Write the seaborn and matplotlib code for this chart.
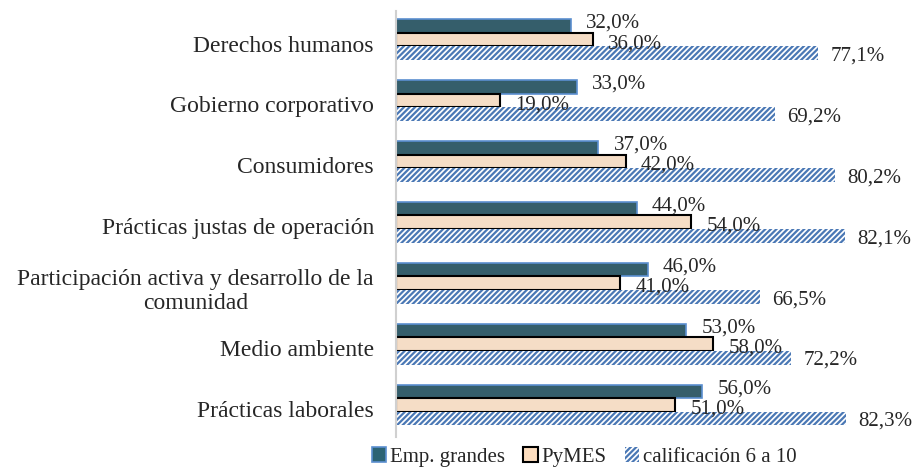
import pandas as pd
import matplotlib.pyplot as plt
import matplotlib.transforms as mtransforms
from matplotlib.patches import Patch
import seaborn as sns

categorias = ['Derechos humanos', 'Gobierno corporativo', 'Consumidores',
              'Prácticas justas de operación',
              'Participación activa y desarrollo de la\ncomunidad',
              'Medio ambiente', 'Prácticas laborales']
emp_grandes = [32.0, 33.0, 37.0, 44.0, 46.0, 53.0, 56.0]
pymes = [36.0, 19.0, 42.0, 54.0, 41.0, 58.0, 51.0]
calificacion = [77.1, 69.2, 80.2, 82.1, 66.5, 72.2, 82.3]
series = ['Emp. grandes', 'PyMES', 'calificación 6 a 10']

df = pd.DataFrame({
    'categoria': categorias * 3,
    'serie': [series[0]] * 7 + [series[1]] * 7 + [series[2]] * 7,
    'valor': emp_grandes + pymes + calificacion,
})

sns.set_style('white')
plt.rcParams['font.family'] = ['Liberation Serif', 'DejaVu Serif']
plt.rcParams['hatch.linewidth'] = 1.6

fig = plt.figure(figsize=(9.24, 4.68), dpi=100)
ax = fig.add_axes([396 / 924, 1 - 437 / 468, 0.99 - 396 / 924, 426 / 468])

colores = ['#2C6374', '#FDDDBE', 'white']
sns.barplot(data=df, x='valor', y='categoria', hue='serie', orient='h',
            palette=colores, width=0.67, ax=ax, legend=False)

# estilos por serie
for bar in ax.containers[0]:
    bar.set_edgecolor('#5B8FD0')
    bar.set_linewidth(1.2)
for bar in ax.containers[1]:
    bar.set_edgecolor('black')
    bar.set_linewidth(1.5)
for bar in ax.containers[2]:
    bar.set_facecolor('white')
    bar.set_edgecolor('#4A78B5')
    bar.set_linewidth(0)
    bar.set_hatch('//////')

# etiquetas de datos
offsets = [(11, 2), (11, -3), (9, -2)]
for cont, (dx, dy) in zip(ax.containers, offsets):
    for bar in cont:
        w = bar.get_width()
        y = bar.get_y() + bar.get_height() / 2
        ax.annotate(f'{w:.1f}%'.replace('.', ','), (w, y),
                    xytext=(dx, dy), textcoords='offset points',
                    va='center', ha='left', fontsize=15)

ax.set_xlim(0, (0.99 * 924 - 396) / 5.47)
ax.set_ylim(6.525, -0.468)
ax.set_xlabel('')
ax.set_ylabel('')
ax.set_xticks([])
ax.tick_params(axis='y', length=0, labelsize=17, pad=16)
for s in ['top', 'right', 'bottom']:
    ax.spines[s].set_visible(False)
ax.spines['left'].set_color('#d0d0d0')
ax.spines['left'].set_linewidth(1.5)
shift = mtransforms.ScaledTranslation(0, -4 / 100, fig.dpi_scale_trans)
for lbl in ax.get_yticklabels():
    lbl.set_multialignment('center')
    lbl.set_transform(lbl.get_transform() + shift)

handles = [
    Patch(facecolor='#2C6374', edgecolor='#5B8FD0', lw=1.2),
    Patch(facecolor='#FDDDBE', edgecolor='black', lw=1.5),
    Patch(facecolor='white', edgecolor='#4A78B5', lw=0, hatch='//////'),
]
fig.legend(handles, series, loc='center', bbox_to_anchor=(584 / 924, 1 - 457 / 468),
           ncol=3, frameon=False, fontsize=15, handlelength=0.7, handleheight=0.7,
           handletextpad=0.15, columnspacing=0.9, borderpad=0)

fig.savefig('out.png', dpi=100)
